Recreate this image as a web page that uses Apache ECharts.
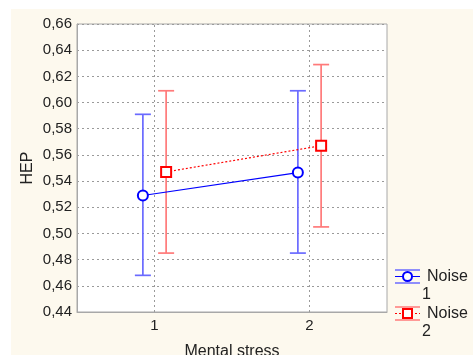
<!DOCTYPE html>
<html>
<head>
<meta charset="utf-8">
<script src="https://cdn.jsdelivr.net/npm/echarts@6/dist/echarts.min.js"></script>
<style>
  html, body { margin: 0; padding: 0; background: #ffffff; }
  #bg { position: absolute; left: 11px; top: 9px; right: 0; bottom: 0; background: #fdf9ee; }
  #chart { position: absolute; left: 0; top: 0; width: 473px; height: 355px; }
</style>
</head>
<body>
<div id="bg"></div>
<div id="chart"></div>
<script>
// ---- data ----
const categories = ['1', '2'];
const seriesNames = ['Noise 1', 'Noise 2'];
const noise1Mean = [0.529, 0.5465];
const noise1Low  = [0.468, 0.485];
const noise1High = [0.591, 0.609];
const noise2Mean = [0.547, 0.567];
const noise2Low  = [0.485, 0.505];
const noise2High = [0.609, 0.629];
const yTicks = { min: 0.44, max: 0.66, step: 0.02 };

// ---- styling ----
const FONT = 'Liberation Sans';
const OFF = 0.075;            // horizontal dodge of the two groups
const BLUE = '#0000ff', BLUE_BAR = '#6a6aff';
const RED = '#ff0000', RED_BAR = '#ff7a7a';
const GRID_C = '#a8a8a8';

function errData(low, high, side) {
  return categories.map((c, i) => [i + 1 + side * OFF, low[i], high[i]]);
}
function meanData(mean, side) {
  return categories.map((c, i) => [i + 1 + side * OFF, mean[i]]);
}
function errRender(color) {
  return function (params, api) {
    const x = api.value(0);
    const top = api.coord([x, api.value(2)]);
    const bot = api.coord([x, api.value(1)]);
    const hw = 8;
    const st = { stroke: color, lineWidth: 1.7 };
    return {
      type: 'group',
      children: [
        { type: 'line', shape: { x1: top[0], y1: top[1], x2: bot[0], y2: bot[1] }, style: st },
        { type: 'line', shape: { x1: top[0] - hw, y1: top[1], x2: top[0] + hw, y2: top[1] }, style: st },
        { type: 'line', shape: { x1: bot[0] - hw, y1: bot[1], x2: bot[0] + hw, y2: bot[1] }, style: st }
      ]
    };
  };
}

const chart = echarts.init(document.getElementById('chart'), null, { renderer: 'canvas' });

// legend drawn as graphic to mimic error-bar style icons
function legendItem(top, name, color, barColor, symbol, dotted) {
  const parts = name.split(' ');
  const cx = 407.5, x1 = 395, x2 = 420;
  const mid = top + 6.5;
  const children = [
    { type: 'line', shape: { x1: x1, y1: top, x2: x2, y2: top }, style: { stroke: barColor, lineWidth: 1.5 } },
    { type: 'line', shape: { x1: x1, y1: top + 13, x2: x2, y2: top + 13 }, style: { stroke: barColor, lineWidth: 1.5 } },
    { type: 'line', shape: { x1: x1, y1: mid, x2: x2, y2: mid }, style: { stroke: color, lineWidth: 1, lineDash: dotted ? [2, 2] : null } }
  ];
  if (symbol === 'circle') {
    children.push({ type: 'circle', shape: { cx: cx, cy: mid, r: 4.5 }, style: { fill: '#fff', stroke: color, lineWidth: 2 } });
  } else {
    children.push({ type: 'rect', shape: { x: cx - 4.5, y: mid - 4.5, width: 9, height: 9 }, style: { fill: '#fff', stroke: color, lineWidth: 2 } });
  }
  children.push({ type: 'text', x: 427, y: mid, style: { text: parts[0], font: '16px "' + FONT + '"', fill: '#222', verticalAlign: 'middle', align: 'left' } });
  children.push({ type: 'text', x: 422, y: mid + 18.5, style: { text: parts[1], font: '16px "' + FONT + '"', fill: '#222', verticalAlign: 'middle', align: 'left' } });
  return { type: 'group', children: children };
}

const option = {
  animation: false,
  backgroundColor: 'transparent',
  textStyle: { fontFamily: FONT },
  grid: {
    left: 77, top: 24, right: 86, bottom: 43,
    show: true, backgroundColor: '#ffffff', borderColor: GRID_C, borderWidth: 1,
    containLabel: false, outerBoundsMode: 'none'
  },
  xAxis: {
    type: 'value', min: 0.5, max: 2.5, interval: 0.5,
    axisLine: { show: true, lineStyle: { color: GRID_C } },
    axisTick: { show: false },
    splitLine: { show: false },
    axisLabel: {
      fontSize: 15, color: '#222', margin: 6,
      formatter: v => (Math.abs(v - Math.round(v)) < 1e-6 && categories[Math.round(v) - 1] !== undefined) ? categories[Math.round(v) - 1] : ''
    },
    name: 'Mental stress', nameLocation: 'middle', nameGap: 32, nameMoveOverlap: false,
    nameTextStyle: { fontSize: 16, color: '#222' }
  },
  yAxis: {
    type: 'value', min: yTicks.min, max: yTicks.max, interval: yTicks.step,
    axisLine: { show: true, lineStyle: { color: GRID_C } },
    axisTick: { show: false },
    splitLine: { show: true, lineStyle: { color: '#9a9a9a', type: [2, 3], width: 1 } },
    axisLabel: { fontSize: 15, color: '#222', margin: 5, formatter: v => v.toFixed(2).replace('.', ',') },
    name: 'HEP', nameLocation: 'middle', nameGap: 41, nameMoveOverlap: false,
    nameTextStyle: { fontSize: 16, color: '#222' }
  },
  graphic: [
    legendItem(270, seriesNames[0], BLUE, BLUE_BAR, 'circle', false),
    legendItem(307, seriesNames[1], RED, RED_BAR, 'rect', true)
  ],
  series: [
    {
      type: 'custom', name: seriesNames[0] + ' err', z: 3,
      renderItem: errRender(BLUE_BAR), encode: { x: 0, y: [1, 2] },
      data: errData(noise1Low, noise1High, -1),
      markLine: {
        silent: true, symbol: 'none', z: 1, label: { show: false },
        lineStyle: { color: '#9a9a9a', type: [2, 3], width: 1 },
        data: categories.map((c, i) => ({ xAxis: i + 1 }))
      }
    },
    {
      type: 'custom', name: seriesNames[1] + ' err', z: 3,
      renderItem: errRender(RED_BAR), encode: { x: 0, y: [1, 2] },
      data: errData(noise2Low, noise2High, 1)
    },
    {
      type: 'line', name: seriesNames[0], z: 5,
      data: meanData(noise1Mean, -1),
      symbol: 'circle', symbolSize: 10,
      itemStyle: { color: '#fff', borderColor: BLUE, borderWidth: 2 },
      lineStyle: { color: BLUE, width: 1.2 }
    },
    {
      type: 'line', name: seriesNames[1], z: 5,
      data: meanData(noise2Mean, 1),
      symbol: 'rect', symbolSize: 10,
      itemStyle: { color: '#fff', borderColor: RED, borderWidth: 2 },
      lineStyle: { color: RED, width: 1.2, type: [2, 2] }
    }
  ]
};
chart.setOption(option);
</script>
</body>
</html>
